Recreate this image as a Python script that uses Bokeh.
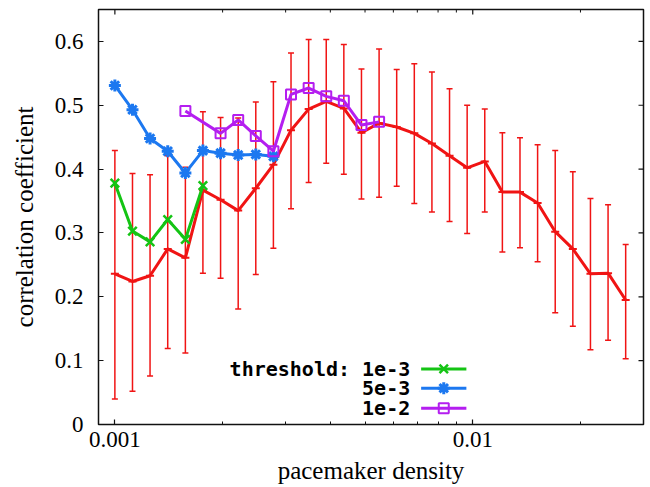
import math
from bokeh.plotting import figure
from bokeh.models import (FixedTicker, CustomJSTickFormatter, Label, ColumnDataSource, Range1d)
from bokeh.embed import file_html
from bokeh.resources import INLINE

# ---------------- data ----------------
density = [0.001, 0.00112, 0.001254, 0.001405, 0.001574, 0.001762, 0.001974, 0.002211,
           0.002476, 0.002773, 0.003106, 0.003479, 0.003896, 0.004363, 0.004887, 0.005474,
           0.00613, 0.006866, 0.00769, 0.008613, 0.009646, 0.010804, 0.0121, 0.013552,
           0.015179, 0.017, 0.01904, 0.021325, 0.023884, 0.02675]
mean_corr = [0.236, 0.224, 0.233, 0.275, 0.261, 0.367, 0.352, 0.335, 0.370, 0.407,
             0.461, 0.494, 0.506, 0.495, 0.457, 0.472, 0.466, 0.456, 0.440, 0.421,
             0.402, 0.412, 0.364, 0.364, 0.347, 0.302, 0.275, 0.236, 0.237, 0.195]
err_upper = [0.429, 0.393, 0.391, 0.421, 0.403, 0.490, 0.481, 0.480, 0.505, 0.537,
             0.582, 0.603, 0.603, 0.595, 0.557, 0.588, 0.556, 0.565, 0.552, 0.526,
             0.500, 0.494, 0.457, 0.449, 0.438, 0.429, 0.396, 0.354, 0.344, 0.282]
err_lower = [0.040, 0.052, 0.076, 0.119, 0.112, 0.237, 0.229, 0.181, 0.235, 0.276,
             0.338, 0.379, 0.409, 0.392, 0.353, 0.356, 0.373, 0.346, 0.333, 0.318,
             0.299, 0.333, 0.270, 0.277, 0.255, 0.175, 0.154, 0.117, 0.132, 0.103]

thr1e3_x = [0.001, 0.00112, 0.001254, 0.001405, 0.001574, 0.001762]
thr1e3_y = [0.378, 0.303, 0.286, 0.321, 0.290, 0.374]

thr5e3_x = [0.001, 0.00112, 0.001254, 0.001405, 0.001574, 0.001762, 0.001974, 0.002211,
            0.002476, 0.002773]
thr5e3_y = [0.531, 0.493, 0.448, 0.428, 0.394, 0.429, 0.425, 0.422, 0.423, 0.420]

thr1e2_x = [0.001574, 0.001974, 0.002211, 0.002476, 0.002773, 0.003106, 0.003479,
            0.003896, 0.004363, 0.004887, 0.005474]
thr1e2_y = [0.491, 0.456, 0.477, 0.452, 0.428, 0.517, 0.527, 0.514, 0.507, 0.469, 0.474]

legend_labels = ["threshold: 1e-3", "5e-3", "1e-2"]
x_ticks = [0.001, 0.01]
x_minor_ticks = [0.0009, 0.002, 0.003, 0.004, 0.005, 0.006, 0.007, 0.008, 0.009, 0.02, 0.03]
y_ticks = [0, 0.1, 0.2, 0.3, 0.4, 0.5, 0.6]

# ---------------- style ----------------
RED = "#f01414"
GREEN = "#14c414"
BLUE = "#1c78f0"
PURPLE = "#b41ef0"
FRAME = "#111111"
XMIN, XMAX = 0.0009, 0.03
YMIN, YMAX = 0.0, 0.65
SERIF = "Liberation Serif"

p = figure(width=646, height=487, x_axis_type="log",
           x_range=Range1d(XMIN, XMAX), y_range=Range1d(YMIN, YMAX),
           output_backend="svg", toolbar_location=None,
           min_border_left=98, min_border_right=3, min_border_top=9, min_border_bottom=63)
p.background_fill_color = "white"
p.border_fill_color = "white"
p.xgrid.visible = False
p.ygrid.visible = False
p.outline_line_color = FRAME
p.outline_line_width = 1.5

x_ticker = FixedTicker(ticks=x_ticks, minor_ticks=x_minor_ticks)
y_ticker = FixedTicker(ticks=y_ticks, minor_ticks=[])
x_fmt = CustomJSTickFormatter(code="return String(Number(tick.toPrecision(3)));")
y_fmt = CustomJSTickFormatter(code="return tick === 0 ? '0' : tick.toFixed(1);")

for ax in (p.xaxis[0], p.yaxis[0]):
    ax.axis_line_color = None
    ax.major_tick_in = 5
    ax.major_tick_out = 0
    ax.minor_tick_in = 3
    ax.minor_tick_out = 0
    ax.major_tick_line_color = FRAME
    ax.minor_tick_line_color = FRAME
    ax.major_tick_line_width = 1.2
    ax.minor_tick_line_width = 1.0
    ax.major_label_text_font = SERIF
    ax.major_label_text_font_size = "23px"
    ax.major_label_text_color = "black"
    ax.axis_label_text_font = SERIF
    ax.axis_label_text_font_size = "25px"
    ax.axis_label_text_font_style = "normal"
    ax.axis_label_text_color = "black"

xa = p.xaxis[0]
xa.ticker = x_ticker
xa.formatter = x_fmt
xa.axis_label = "pacemaker density"
xa.major_label_standoff = 7
xa.axis_label_standoff = 7

ya = p.yaxis[0]
ya.ticker = y_ticker
ya.formatter = y_fmt
ya.axis_label = "correlation coefficient"
ya.major_label_standoff = 15
ya.axis_label_standoff = 14

# mirrored inward ticks on the right and top edges (markers centred on the frame edge,
# the outer half is clipped by the frame)
p.scatter([XMAX] * len(y_ticks), y_ticks, marker="dash", size=10,
          line_color=FRAME, line_width=1.2)
p.scatter(x_ticks, [YMAX] * len(x_ticks), marker="dash", angle=math.pi / 2, size=10,
          line_color=FRAME, line_width=1.2)
p.scatter(x_minor_ticks, [YMAX] * len(x_minor_ticks), marker="dash", angle=math.pi / 2,
          size=6, line_color=FRAME, line_width=1.0)

# ---------------- red mean with error bars ----------------
src = ColumnDataSource(dict(x=density, y=mean_corr, up=err_upper, lo=err_lower))
p.segment(x0="x", y0="lo", x1="x", y1="up", source=src, line_color=RED, line_width=1.5)
p.scatter(x="x", y="up", source=src, marker="dash", size=6, line_color=RED, line_width=1.5)
p.scatter(x="x", y="lo", source=src, marker="dash", size=6, line_color=RED, line_width=1.5)
p.line(x="x", y="y", source=src, line_color=RED, line_width=3)
p.scatter(x="x", y="y", source=src, marker="dash", size=8, line_color=RED, line_width=2)

# ---------------- threshold series ----------------
series = [
    (thr1e3_x, thr1e3_y, GREEN, "x", 12, 2.5),
    (thr5e3_x, thr5e3_y, BLUE, "asterisk", 12, 3.0),
    (thr1e2_x, thr1e2_y, PURPLE, "square", 10, 2.0),
]
for xs, ys, col, mk, sz, lw in series:
    p.line(xs, ys, line_color=col, line_width=3)
    p.scatter(xs, ys, marker=mk, size=sz, line_color=col, fill_color=None, line_width=lw)

# ---------------- legend (gnuplot style: text, then sample) ----------------
lx0, lx1 = math.log10(XMIN), math.log10(XMAX)


def xfrac(f):
    return 10 ** (lx0 + f * (lx1 - lx0))


def yfrac(f):
    return YMIN + f * (YMAX - YMIN)


leg_rows = [0.134, 0.0875, 0.0393]
for (xs, ys, col, mk, sz, lw), lab, fr in zip(series, legend_labels, leg_rows):
    yy = yfrac(fr)
    p.add_layout(Label(x=xfrac(0.572), y=yy, text=lab, text_align="right",
                       text_baseline="middle", text_font="DejaVu Sans Mono",
                       text_font_style="bold", text_font_size="20px", text_color="black"))
    p.line([xfrac(0.592), xfrac(0.675)], [yy, yy], line_color=col, line_width=3)
    p.scatter([xfrac(0.6335)], [yy], marker=mk, size=sz, line_color=col,
              fill_color=None, line_width=lw)

open("out.html", "w").write(file_html(p, INLINE))
